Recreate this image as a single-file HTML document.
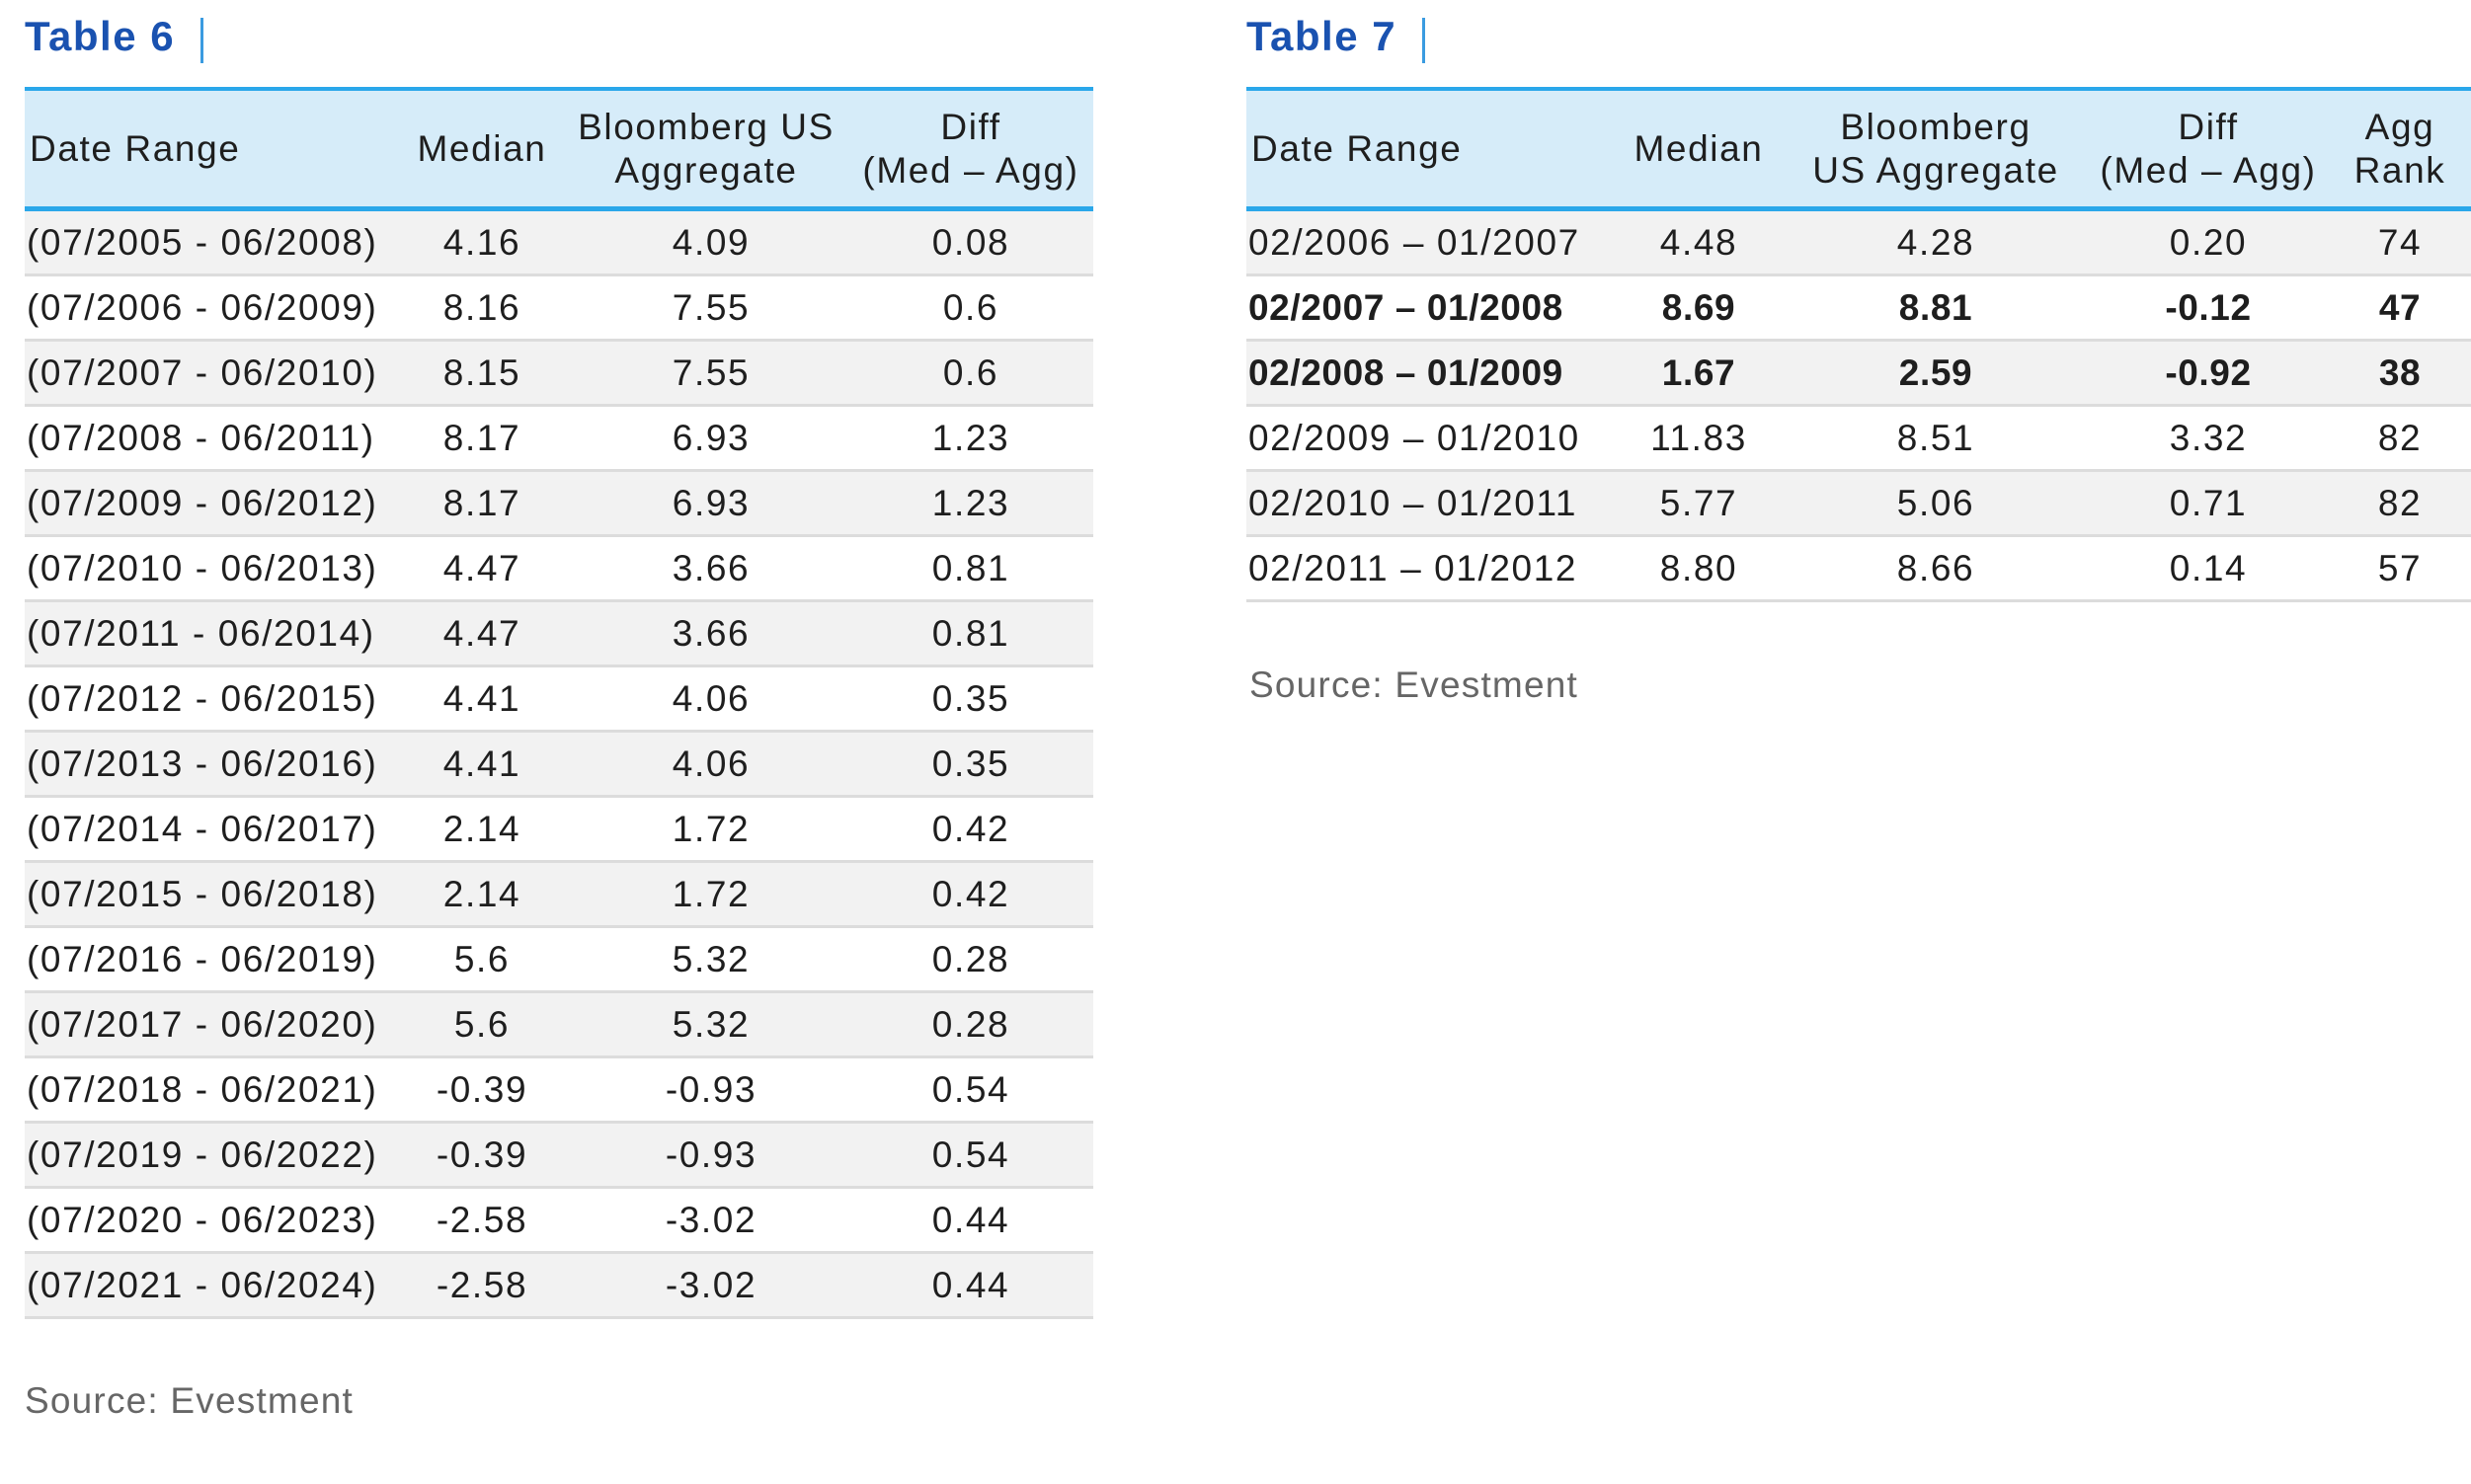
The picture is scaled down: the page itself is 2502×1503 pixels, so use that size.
<!DOCTYPE html>
<html><head><meta charset="utf-8"><style>
*{margin:0;padding:0;box-sizing:border-box}
body{width:2502px;height:1503px;background:#fff;position:relative;font-family:"Liberation Sans",sans-serif;color:#1e1e1e;overflow:hidden}
.title{position:absolute;top:13px;font-size:42px;font-weight:bold;color:#1a52b0;letter-spacing:1.5px}
.bar{position:absolute;top:18px;width:3px;height:46px;background:#3a9be0}
.tbl{position:absolute;top:88px}
.hd{height:126px;background:#d6ecf9;border-top:4px solid #2aa7ea;border-bottom:5px solid #2aa7ea;position:relative}
.row{height:66px;border-bottom:3px solid #dcdcdc;position:relative;font-size:37px;line-height:63px;letter-spacing:1.6px}
.row.g{background:#f2f2f2}
.c{position:absolute;top:0;text-align:center;white-space:nowrap}
.hd .c{font-size:37px;line-height:44px;top:50%;transform:translateY(-50%);letter-spacing:1.6px}
.l{text-align:left}
.b{font-weight:bold;letter-spacing:0.6px}
.src{position:absolute;font-size:37px;color:#666;letter-spacing:1.2px}
</style></head><body>

<div class="title" style="left:25px">Table 6</div>
<div class="bar" style="left:203px"></div>
<div class="tbl" style="left:25px;width:1082px">
<div class="hd">
<div class="c l" style="left:5px">Date Range</div>
<div class="c" style="left:393px;width:140px">Median</div>
<div class="c" style="left:545px;width:290px">Bloomberg US<br>Aggregate</div>
<div class="c" style="left:838px;width:240px">Diff<br>(Med – Agg)</div>
</div>
<div class="row g"><div class="c l" style="left:2px">(07/2005 - 06/2008)</div><div class="c" style="left:403px;width:120px">4.16</div><div class="c" style="left:595px;width:200px">4.09</div><div class="c" style="left:858px;width:200px">0.08</div></div>
<div class="row"><div class="c l" style="left:2px">(07/2006 - 06/2009)</div><div class="c" style="left:403px;width:120px">8.16</div><div class="c" style="left:595px;width:200px">7.55</div><div class="c" style="left:858px;width:200px">0.6</div></div>
<div class="row g"><div class="c l" style="left:2px">(07/2007 - 06/2010)</div><div class="c" style="left:403px;width:120px">8.15</div><div class="c" style="left:595px;width:200px">7.55</div><div class="c" style="left:858px;width:200px">0.6</div></div>
<div class="row"><div class="c l" style="left:2px">(07/2008 - 06/2011)</div><div class="c" style="left:403px;width:120px">8.17</div><div class="c" style="left:595px;width:200px">6.93</div><div class="c" style="left:858px;width:200px">1.23</div></div>
<div class="row g"><div class="c l" style="left:2px">(07/2009 - 06/2012)</div><div class="c" style="left:403px;width:120px">8.17</div><div class="c" style="left:595px;width:200px">6.93</div><div class="c" style="left:858px;width:200px">1.23</div></div>
<div class="row"><div class="c l" style="left:2px">(07/2010 - 06/2013)</div><div class="c" style="left:403px;width:120px">4.47</div><div class="c" style="left:595px;width:200px">3.66</div><div class="c" style="left:858px;width:200px">0.81</div></div>
<div class="row g"><div class="c l" style="left:2px">(07/2011 - 06/2014)</div><div class="c" style="left:403px;width:120px">4.47</div><div class="c" style="left:595px;width:200px">3.66</div><div class="c" style="left:858px;width:200px">0.81</div></div>
<div class="row"><div class="c l" style="left:2px">(07/2012 - 06/2015)</div><div class="c" style="left:403px;width:120px">4.41</div><div class="c" style="left:595px;width:200px">4.06</div><div class="c" style="left:858px;width:200px">0.35</div></div>
<div class="row g"><div class="c l" style="left:2px">(07/2013 - 06/2016)</div><div class="c" style="left:403px;width:120px">4.41</div><div class="c" style="left:595px;width:200px">4.06</div><div class="c" style="left:858px;width:200px">0.35</div></div>
<div class="row"><div class="c l" style="left:2px">(07/2014 - 06/2017)</div><div class="c" style="left:403px;width:120px">2.14</div><div class="c" style="left:595px;width:200px">1.72</div><div class="c" style="left:858px;width:200px">0.42</div></div>
<div class="row g"><div class="c l" style="left:2px">(07/2015 - 06/2018)</div><div class="c" style="left:403px;width:120px">2.14</div><div class="c" style="left:595px;width:200px">1.72</div><div class="c" style="left:858px;width:200px">0.42</div></div>
<div class="row"><div class="c l" style="left:2px">(07/2016 - 06/2019)</div><div class="c" style="left:403px;width:120px">5.6</div><div class="c" style="left:595px;width:200px">5.32</div><div class="c" style="left:858px;width:200px">0.28</div></div>
<div class="row g"><div class="c l" style="left:2px">(07/2017 - 06/2020)</div><div class="c" style="left:403px;width:120px">5.6</div><div class="c" style="left:595px;width:200px">5.32</div><div class="c" style="left:858px;width:200px">0.28</div></div>
<div class="row"><div class="c l" style="left:2px">(07/2018 - 06/2021)</div><div class="c" style="left:403px;width:120px">-0.39</div><div class="c" style="left:595px;width:200px">-0.93</div><div class="c" style="left:858px;width:200px">0.54</div></div>
<div class="row g"><div class="c l" style="left:2px">(07/2019 - 06/2022)</div><div class="c" style="left:403px;width:120px">-0.39</div><div class="c" style="left:595px;width:200px">-0.93</div><div class="c" style="left:858px;width:200px">0.54</div></div>
<div class="row"><div class="c l" style="left:2px">(07/2020 - 06/2023)</div><div class="c" style="left:403px;width:120px">-2.58</div><div class="c" style="left:595px;width:200px">-3.02</div><div class="c" style="left:858px;width:200px">0.44</div></div>
<div class="row g"><div class="c l" style="left:2px">(07/2021 - 06/2024)</div><div class="c" style="left:403px;width:120px">-2.58</div><div class="c" style="left:595px;width:200px">-3.02</div><div class="c" style="left:858px;width:200px">0.44</div></div>
</div>
<div class="src" style="left:25px;top:1398px">Source: Evestment</div>

<div class="title" style="left:1262px">Table 7</div>
<div class="bar" style="left:1440px"></div>
<div class="tbl" style="left:1262px;width:1240px">
<div class="hd">
<div class="c l" style="left:5px">Date Range</div>
<div class="c" style="left:388px;width:140px">Median</div>
<div class="c" style="left:548px;width:300px">Bloomberg<br>US Aggregate</div>
<div class="c" style="left:849px;width:250px">Diff<br>(Med – Agg)</div>
<div class="c" style="left:1113px;width:110px">Agg<br>Rank</div>
</div>
<div class="row g"><div class="c l" style="left:2px">02/2006 – 01/2007</div><div class="c" style="left:398px;width:120px">4.48</div><div class="c" style="left:598px;width:200px">4.28</div><div class="c" style="left:874px;width:200px">0.20</div><div class="c" style="left:1118px;width:100px">74</div></div>
<div class="row b"><div class="c l" style="left:2px">02/2007 – 01/2008</div><div class="c" style="left:398px;width:120px">8.69</div><div class="c" style="left:598px;width:200px">8.81</div><div class="c" style="left:874px;width:200px">-0.12</div><div class="c" style="left:1118px;width:100px">47</div></div>
<div class="row g b"><div class="c l" style="left:2px">02/2008 – 01/2009</div><div class="c" style="left:398px;width:120px">1.67</div><div class="c" style="left:598px;width:200px">2.59</div><div class="c" style="left:874px;width:200px">-0.92</div><div class="c" style="left:1118px;width:100px">38</div></div>
<div class="row"><div class="c l" style="left:2px">02/2009 – 01/2010</div><div class="c" style="left:398px;width:120px">11.83</div><div class="c" style="left:598px;width:200px">8.51</div><div class="c" style="left:874px;width:200px">3.32</div><div class="c" style="left:1118px;width:100px">82</div></div>
<div class="row g"><div class="c l" style="left:2px">02/2010 – 01/2011</div><div class="c" style="left:398px;width:120px">5.77</div><div class="c" style="left:598px;width:200px">5.06</div><div class="c" style="left:874px;width:200px">0.71</div><div class="c" style="left:1118px;width:100px">82</div></div>
<div class="row"><div class="c l" style="left:2px">02/2011 – 01/2012</div><div class="c" style="left:398px;width:120px">8.80</div><div class="c" style="left:598px;width:200px">8.66</div><div class="c" style="left:874px;width:200px">0.14</div><div class="c" style="left:1118px;width:100px">57</div></div>
</div>
<div class="src" style="left:1265px;top:673px">Source: Evestment</div>
</body></html>
